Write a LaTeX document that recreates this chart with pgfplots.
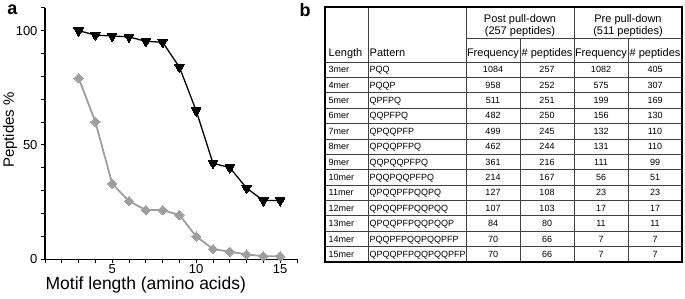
\documentclass[border=0pt]{standalone}
\usepackage{fontspec}
\setmainfont{Liberation Sans}
\usepackage{pgfplots}
\pgfplotsset{compat=1.18}
\definecolor{greyline}{RGB}{158,158,158}
\begin{document}
\begin{tikzpicture}
\useasboundingbox (0pt,0pt) rectangle (685pt,299pt);
\begin{axis}[
  at={(45pt,39.7pt)}, anchor=south west,
  scale only axis, width=252pt, height=251.5pt,
  xmin=1, xmax=16, ymin=0, ymax=110,
  axis lines*=left,
  axis line style={line width=1.4pt, black},
  xtick={5,10,15}, minor xtick={1,...,16},
  ytick={0,50,100}, minor ytick={0,10,...,110},
  tick align=outside, tick pos=left,
  major tick length=4pt, minor tick length=4pt,
  every tick/.style={black, line width=1pt},
  /pgf/number format/assume math mode=true,
  ticklabel style={font=\fontsize{13}{13}\selectfont},
  xticklabel style={inner sep=1pt},
  xlabel={Motif length (amino acids)},
  ylabel={Peptides \%},
  every axis x label/.style={at={(axis description cs:0.40,-0.103)}, anchor=center, inner sep=0pt, font=\fontsize{17.5}{17.5}\selectfont},
  every axis y label/.style={at={(axis description cs:-0.139,0.514)}, rotate=90, anchor=center, font=\fontsize{15}{15}\selectfont},
  clip=false,
]
\addplot[greyline, line width=1.8pt, mark=square*, mark size=3.3pt, mark options={rotate=45, fill=greyline, draw=greyline, line width=0pt}]
 coordinates {(3,79.26)(4,60.08)(5,33.07)(6,25.44)(7,21.53)(8,21.53)(9,19.37)(10,9.98)(11,4.50)(12,3.33)(13,2.15)(14,1.37)(15,1.37)};
\addplot[black, line width=1.3pt, mark=triangle*, mark size=5.5pt, mark options={rotate=180, fill=black, line width=0pt}]
 coordinates {(3,100)(4,98.05)(5,97.67)(6,97.28)(7,95.33)(8,94.94)(9,84.05)(10,64.98)(11,42.02)(12,40.08)(13,31.13)(14,25.68)(15,25.68)};
\end{axis}
\begin{scope}[x=1pt,y=1pt]
\node[font=\fontsize{18}{18}\bfseries\selectfont] at (12.5,289) {a};
\node[font=\fontsize{18}{18}\bfseries\selectfont] at (305,288.5) {b};
% grid
\begin{scope}[line width=0.8pt, black!75]
\foreach \xx in {368,466,574} \draw (\xx,292)--(\xx,37);
\foreach \xx in {520,628} \draw (\xx,260.7)--(\xx,37);
\draw (466,260.7)--(682,260.7);
\draw (325,237)--(682,237);
\foreach \k in {1,...,12} \draw (325,{237-15.385*\k})--(682,{237-15.385*\k});
\end{scope}
\draw[line width=1.8pt, black] (325,37) rectangle (682,292);
% header
\begin{scope}[font=\fontsize{11}{11}\selectfont, inner sep=0pt]
\node[anchor=base] at (520,276.3) {Post pull-down};
\node[anchor=base] at (520,264.7) {(257 peptides)};
\node[anchor=base] at (628,276.3) {Pre pull-down};
\node[anchor=base] at (628,264.7) {(511 peptides)};
\node[anchor=base west] at (328.5,242.3) {Length};
\node[anchor=base west] at (369.5,242.3) {Pattern};
\node[anchor=base] at (493,242.3) {Frequency};
\node[anchor=base] at (547,242.3) {\# peptides};
\node[anchor=base] at (601,242.3) {Frequency};
\node[anchor=base] at (655,242.3) {\# peptides};
\end{scope}
\begin{scope}[font=\fontsize{9}{9}\selectfont, inner sep=0pt]
\foreach \i/\len/\pat/\fa/\pa/\fb/\pb in {
 0/3mer/PQQ/1084/257/1082/405,
 1/4mer/PQQP/958/252/575/307,
 2/5mer/QPFPQ/511/251/199/169,
 3/6mer/QQPFPQ/482/250/156/130,
 4/7mer/QPQQPFP/499/245/132/110,
 5/8mer/QPQQPFPQ/462/244/131/110,
 6/9mer/QQPQQPFPQ/361/216/111/99,
 7/10mer/PQQPQQPFPQ/214/167/56/51,
 8/11mer/QPQQPFPQQPQ/127/108/23/23,
 9/12mer/QPQQPFPQQPQQ/107/103/17/17,
 10/13mer/QPQQPFPQQPQQP/84/80/11/11,
 11/14mer/PQQPFPQQPQQPFP/70/66/7/7,
 12/15mer/QPQQPFPQQPQQPFP/70/66/7/7}{
 \pgfmathsetmacro{\yb}{237-15.385*(\i+1)+4.6}
 \node[anchor=base west] at (328.5,\yb) {\len};
 \node[anchor=base west] at (369.5,\yb) {\pat};
 \node[anchor=base] at (493,\yb) {\fa};
 \node[anchor=base] at (547,\yb) {\pa};
 \node[anchor=base] at (601,\yb) {\fb};
 \node[anchor=base] at (655,\yb) {\pb};
}
\end{scope}
\end{scope}
\end{tikzpicture}
\end{document}
